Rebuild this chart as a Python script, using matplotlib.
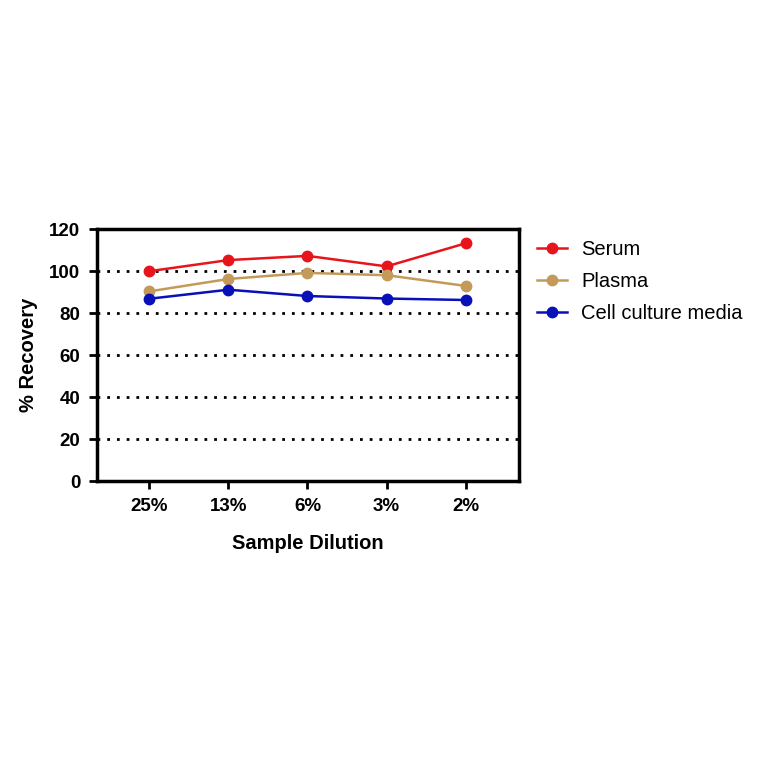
import matplotlib
matplotlib.use("Agg")
import matplotlib.pyplot as plt

plt.rcParams['font.family'] = ['Liberation Sans', 'DejaVu Sans']

categories = ["25%", "13%", "6%", "3%", "2%"]
serum = [100.0, 105.3, 107.3, 102.3, 113.3]
plasma = [90.4, 96.3, 99.2, 98.1, 93.0]
cell = [86.9, 91.2, 88.2, 87.0, 86.3]

fig = plt.figure(figsize=(7.64, 7.64), dpi=100)
ax = fig.add_axes([0.127, 0.370, 0.552, 0.330])
x = range(len(categories))
ax.plot(x, serum, '-o', color='#e8141c', ms=7.5, lw=1.8, label='Serum', zorder=3)
ax.plot(x, plasma, '-o', color='#c49a5a', ms=7.5, lw=1.8, label='Plasma', zorder=3)
ax.plot(x, cell, '-o', color='#0a10b8', ms=7.5, lw=1.8, label='Cell culture media', zorder=3)
for yv in [20, 40, 60, 80, 100]:
    ax.axhline(yv, color='black', ls=(0, (1, 2.5)), lw=2, zorder=1)
ax.set_xlim(-0.66, 4.67)
ax.set_ylim(0, 120)
ax.set_yticks(range(0, 121, 20))
ax.set_xticks(list(x))
ax.set_xticklabels(categories)
for s in ax.spines.values():
    s.set_linewidth(2.5)
ax.tick_params(width=2, length=6, labelsize=13.5, pad=6)
for lbl in ax.get_xticklabels() + ax.get_yticklabels():
    lbl.set_fontweight('bold')
ax.set_xlabel('Sample Dilution', fontsize=14.5, fontweight='bold', labelpad=14)
ax.set_ylabel('% Recovery', fontsize=14.5, fontweight='bold', labelpad=8)
ax.legend(loc='upper left', bbox_to_anchor=(1.0, 1.03), frameon=False, fontsize=14.5,
          handlelength=1.5, handletextpad=0.7, labelspacing=0.65)
fig.savefig('out.png', dpi=100)
